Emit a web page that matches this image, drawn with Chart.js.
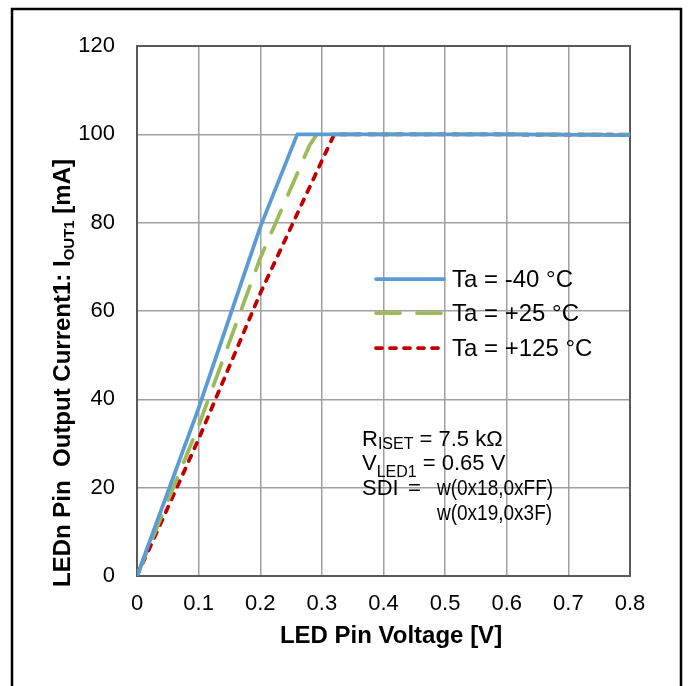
<!DOCTYPE html>
<html>
<head>
<meta charset="utf-8">
<script src="https://cdn.jsdelivr.net/npm/chart.js@4.4.1/dist/chart.umd.min.js"></script>
<style>
  html, body { margin: 0; padding: 0; background: #fff; }
  #wrap { width: 692px; height: 686px; position: relative; }
</style>
</head>
<body>
<div id="wrap"><canvas id="chart" width="692" height="686"></canvas></div>
<script>
// --- Data ---
const xTicks = [0, 0.1, 0.2, 0.3, 0.4, 0.5, 0.6, 0.7, 0.8];
const yTicks = [0, 20, 40, 60, 80, 100, 120];

const vMinus40 = [0, 0.1, 0.2, 0.26, 0.4, 0.6, 0.8];
const iMinus40 = [0, 38, 79, 100, 100, 100, 99.8];

const vPlus25 = [0, 0.1, 0.2, 0.28, 0.29, 0.3, 0.5, 0.8];
const iPlus25 = [0, 34, 72, 97.5, 99.6, 100, 100, 100];

const vPlus125 = [0, 0.1, 0.2, 0.32, 0.5, 0.8];
const iPlus125 = [0, 31, 64, 100, 100, 99.9];

const seriesLabels = ['Ta = -40 °C', 'Ta = +25 °C', 'Ta = +125 °C'];
const seriesColors = ['#5b9bd5', '#9bbb59', '#c00000'];
const seriesDash = [[], [24, 17], [6, 8]];

const toPoints = (xs, ys) => xs.map((x, i) => ({ x: x, y: ys[i] }));

const FONT = '"Liberation Sans", Arial, sans-serif';

// frame around plot area + outer border
const framePlugin = {
    id: 'frame',
    beforeDatasetsDraw(chart) {
        const { ctx, chartArea: a } = chart;
        ctx.save();
        ctx.strokeStyle = '#595959';
        ctx.lineWidth = 2;
        ctx.strokeRect(a.left, a.top, a.right - a.left, a.bottom - a.top);
        ctx.restore();
    },
    afterDraw(chart) {
        const ctx = chart.ctx;
        ctx.save();
        ctx.strokeStyle = '#000';
        ctx.lineWidth = 2.5;
        ctx.strokeRect(12, 9, 669, 700);
        ctx.restore();
    }
};

// draws runs of text with sub-scripts, returns end x
function drawRuns(ctx, runs, x, y) {
    runs.forEach(r => {
        ctx.font = r.font;
        ctx.fillText(r.text, x, y + (r.dy || 0));
        x += ctx.measureText(r.text).width;
    });
    return x;
}
function measureRuns(ctx, runs) {
    let w = 0;
    runs.forEach(r => { ctx.font = r.font; w += ctx.measureText(r.text).width; });
    return w;
}

const textPlugin = {
    id: 'texts',
    afterDraw(chart) {
        const ctx = chart.ctx;
        ctx.save();
        ctx.fillStyle = '#000';
        ctx.textBaseline = 'alphabetic';
        ctx.textAlign = 'left';

        // x axis title
        ctx.font = 'bold 24px ' + FONT;
        ctx.textAlign = 'center';
        ctx.fillText('LED Pin Voltage [V]', 391, 643);
        ctx.textAlign = 'left';

        // y axis title with subscript
        const big = 'bold 24px ' + FONT;
        const small = 'bold 15px ' + FONT;
        const yRuns = [
            { text: 'LEDn Pin  Output Current1: I', font: big },
            { text: 'OUT1', font: small, dy: 4 },
            { text: ' [mA]', font: big }
        ];
        ctx.save();
        ctx.translate(70, 373);
        ctx.rotate(-Math.PI / 2);
        const w = measureRuns(ctx, yRuns);
        drawRuns(ctx, yRuns, -w / 2, 0);
        ctx.restore();

        // legend
        const legendY = [279, 313, 348];
        chart.data.datasets.forEach((ds, i) => {
            ctx.save();
            ctx.strokeStyle = ds.borderColor;
            ctx.lineWidth = ds.borderWidth;
            ctx.lineCap = 'round';
            ctx.setLineDash(ds.borderDash);
            ctx.beginPath();
            ctx.moveTo(376, legendY[i]);
            ctx.lineTo(444, legendY[i]);
            ctx.stroke();
            ctx.restore();
            ctx.font = '24px ' + FONT;
            ctx.textBaseline = 'middle';
            ctx.fillText(ds.label, 452, legendY[i] + 1);
            ctx.textBaseline = 'alphabetic';
        });

        // condition notes
        const reg = '22px ' + FONT;
        const sub = '16px ' + FONT;
        drawRuns(ctx, [
            { text: 'R', font: reg },
            { text: 'ISET', font: sub, dy: 3 },
            { text: ' = 7.5 kΩ', font: reg }
        ], 362, 446);
        drawRuns(ctx, [
            { text: 'V', font: reg },
            { text: 'LED1', font: sub, dy: 7 },
            { text: ' = 0.65 V', font: reg }
        ], 362, 470);
        ctx.font = reg;
        ctx.fillText('SDI', 362, 495);
        ctx.fillText('=', 408, 495);
        ctx.save();
        ctx.font = '20px ' + FONT;
        ctx.translate(437, 495);
        ctx.scale(0.95, 1.12);
        ctx.fillText('w(0x18,0xFF)', 0, 0);
        ctx.fillText('w(0x19,0x3F)', 0, 22.3);
        ctx.restore();

        ctx.restore();
    }
};

const ctx = document.getElementById('chart').getContext('2d');
const chart = new Chart(ctx, {
    type: 'scatter',
    data: {
        datasets: [
            { data: toPoints(vMinus40, iMinus40) },
            { data: toPoints(vPlus25, iPlus25) },
            { data: toPoints(vPlus125, iPlus125) }
        ].map((ds, i) => ({
            ...ds,
            label: seriesLabels[i],
            showLine: true,
            borderColor: seriesColors[i],
            backgroundColor: seriesColors[i],
            borderWidth: 3.75,
            borderDash: seriesDash[i],
            borderCapStyle: 'round',
            borderJoinStyle: 'round',
            pointRadius: 0,
            tension: 0,
            fill: false
        }))
    },
    options: {
        responsive: false,
        animation: false,
        devicePixelRatio: 1,
        layout: { padding: { top: 46, right: 62, left: 0, bottom: 0 } },
        plugins: { legend: { display: false }, tooltip: { enabled: false } },
        scales: {
            x: {
                type: 'linear',
                min: 0, max: 0.8,
                afterFit: s => { s.height = 110; },
                afterBuildTicks: s => { s.ticks = xTicks.map(v => ({ value: v })); },
                border: { display: false },
                grid: { color: '#a0a0a0', lineWidth: 1.5, drawTicks: false },
                ticks: {
                    padding: 15,
                    color: '#000',
                    font: { family: FONT, size: 22 },
                    maxRotation: 0,
                    callback: v => String(v)
                }
            },
            y: {
                min: 0, max: 120,
                afterFit: s => { s.width = 137; },
                afterBuildTicks: s => { s.ticks = yTicks.map(v => ({ value: v })); },
                border: { display: false },
                grid: { color: '#a0a0a0', lineWidth: 1.5, drawTicks: false },
                ticks: {
                    padding: 22,
                    color: '#000',
                    font: { family: FONT, size: 22 },
                    callback: v => String(v)
                }
            }
        }
    },
    plugins: [framePlugin, textPlugin]
});
</script>
</body>
</html>
